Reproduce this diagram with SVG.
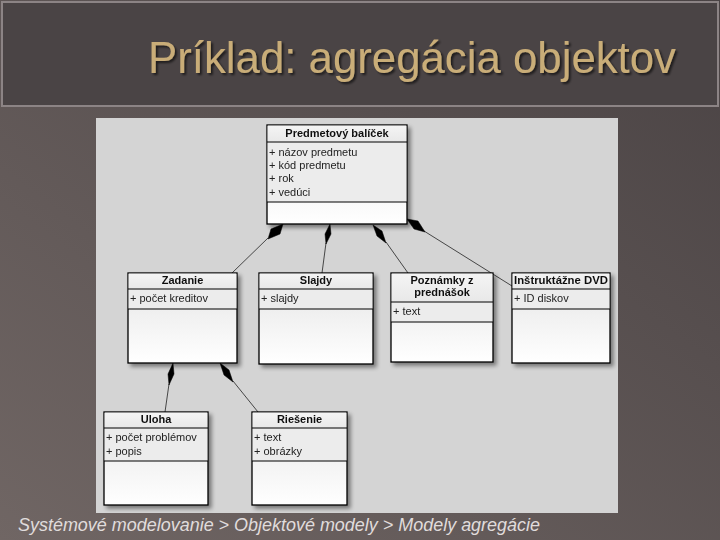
<svg xmlns="http://www.w3.org/2000/svg" width="720" height="540" viewBox="0 0 720 540">
<defs>
<linearGradient id="bg" x1="0" y1="1" x2="1" y2="0">
<stop offset="0" stop-color="#706664"/>
<stop offset="1" stop-color="#4a4344"/>
</linearGradient>
<linearGradient id="hdr" x1="0" y1="0" x2="0" y2="1">
<stop offset="0" stop-color="#f4f4f4"/>
<stop offset="1" stop-color="#e8e8e8"/>
</linearGradient>
<linearGradient id="body" x1="0" y1="0" x2="0" y2="1">
<stop offset="0" stop-color="#e4e4e4"/>
<stop offset="1" stop-color="#ffffff"/>
</linearGradient>
<filter id="sh" x="-10%" y="-10%" width="130%" height="130%">
<feGaussianBlur in="SourceAlpha" stdDeviation="2"/>
<feOffset dx="3" dy="3"/>
<feComponentTransfer><feFuncA type="linear" slope="0.45"/></feComponentTransfer>
<feMerge><feMergeNode/><feMergeNode in="SourceGraphic"/></feMerge>
</filter>
<filter id="tsh" x="-5%" y="-20%" width="110%" height="140%">
<feGaussianBlur in="SourceAlpha" stdDeviation="1"/>
<feOffset dx="2" dy="2"/>
<feComponentTransfer><feFuncA type="linear" slope="0.6"/></feComponentTransfer>
<feMerge><feMergeNode/><feMergeNode in="SourceGraphic"/></feMerge>
</filter>
</defs>
<style>
.box{stroke:#000;stroke-width:1.3}
.sep{stroke:#000;stroke-width:1}
.h{font-family:"Liberation Sans",Arial,sans-serif;font-size:11px;font-weight:bold;fill:#111;text-anchor:middle}
.a{font-family:"Liberation Sans",Arial,sans-serif;font-size:11px;fill:#222}
.ln{stroke:#222;stroke-width:0.8;fill:none}
.dm{fill:#000;stroke:#000;stroke-width:0.5}
</style>
<rect x="0" y="0" width="720" height="540" fill="url(#bg)"/>
<rect x="2" y="2" width="716" height="104" fill="#4a4445" stroke="#8c8485" stroke-width="2"/>
<text x="148" y="73" font-family="&quot;Liberation Sans&quot;,Arial,sans-serif" font-size="45" fill="#c9ad78" filter="url(#tsh)" textLength="528" lengthAdjust="spacingAndGlyphs">Príklad: agregácia objektov</text>
<rect x="96" y="118" width="522" height="395" fill="#d4d4d4"/>

<g id="connectors">
<line class="ln" x1="232" y1="273" x2="268" y2="238"/>
<polygon class="dm" points="283,224 280,234 268,239 271,229"/>
<line class="ln" x1="322" y1="273" x2="326" y2="243"/>
<polygon class="dm" points="330,224 331,234 326,244 325,234"/>
<line class="ln" x1="408" y1="273" x2="386" y2="242"/>
<polygon class="dm" points="373,225 382,231 386,243 377,236"/>
<line class="ln" x1="512" y1="286" x2="424" y2="231"/>
<polygon class="dm" points="407,219 418,221 425,232 414,229"/>
<line class="ln" x1="165" y1="412" x2="169" y2="384"/>
<polygon class="dm" points="173,363 174,374 169,385 168,374"/>
<line class="ln" x1="258" y1="412" x2="233" y2="381"/>
<polygon class="dm" points="220,363 229,370 233,382 224,375"/>
</g>

<g id="predmetovy" filter="url(#sh)">
<rect class="box" x="267" y="125" width="140" height="99" fill="url(#body)"/>
<rect x="267.6" y="125.6" width="138.8" height="16.4" fill="url(#hdr)"/>
<rect x="267.6" y="142" width="138.8" height="60" fill="#ececec"/>
<line class="sep" x1="267" y1="142" x2="407" y2="142"/>
<line class="sep" x1="267" y1="202" x2="407" y2="202"/>
<text class="h" x="337" y="137">Predmetový balíček</text>
<text class="a" x="269" y="156">+ názov predmetu</text>
<text class="a" x="269" y="169">+ kód predmetu</text>
<text class="a" x="269" y="182">+ rok</text>
<text class="a" x="269" y="196">+ vedúci</text>
</g>

<g id="zadanie" filter="url(#sh)">
<rect class="box" x="128" y="273" width="109" height="90" fill="url(#body)"/>
<rect x="128.6" y="273.6" width="107.8" height="15.4" fill="url(#hdr)"/>
<rect x="128.6" y="289" width="107.8" height="20" fill="#ececec"/>
<line class="sep" x1="128" y1="289" x2="237" y2="289"/>
<line class="sep" x1="128" y1="309" x2="237" y2="309"/>
<text class="h" x="182.5" y="284">Zadanie</text>
<text class="a" x="130" y="302">+ počet kreditov</text>
</g>

<g id="slajdy" filter="url(#sh)">
<rect class="box" x="259" y="273" width="114" height="91" fill="url(#body)"/>
<rect x="259.6" y="273.6" width="112.8" height="15.4" fill="url(#hdr)"/>
<rect x="259.6" y="289" width="112.8" height="20" fill="#ececec"/>
<line class="sep" x1="259" y1="289" x2="373" y2="289"/>
<line class="sep" x1="259" y1="309" x2="373" y2="309"/>
<text class="h" x="316" y="284">Slajdy</text>
<text class="a" x="261" y="302">+ slajdy</text>
</g>

<g id="poznamky" filter="url(#sh)">
<rect class="box" x="391" y="273" width="102" height="89" fill="url(#body)"/>
<rect x="391.6" y="273.6" width="100.8" height="28.4" fill="url(#hdr)"/>
<rect x="391.6" y="302" width="100.8" height="20" fill="#ececec"/>
<line class="sep" x1="391" y1="302" x2="493" y2="302"/>
<line class="sep" x1="391" y1="322" x2="493" y2="322"/>
<text class="h" x="442" y="284">Poznámky z</text>
<text class="h" x="442" y="296">prednášok</text>
<text class="a" x="393" y="315">+ text</text>
</g>

<g id="dvd" filter="url(#sh)">
<rect class="box" x="512" y="273" width="98" height="90" fill="url(#body)"/>
<rect x="512.6" y="273.6" width="96.8" height="15.4" fill="url(#hdr)"/>
<rect x="512.6" y="289" width="96.8" height="20" fill="#ececec"/>
<line class="sep" x1="512" y1="289" x2="610" y2="289"/>
<line class="sep" x1="512" y1="309" x2="610" y2="309"/>
<text class="h" x="561" y="284" textLength="94" lengthAdjust="spacingAndGlyphs">Inštruktážne DVD</text>
<text class="a" x="514" y="302">+ ID diskov</text>
</g>

<g id="uloha" filter="url(#sh)">
<rect class="box" x="104" y="412" width="104" height="93" fill="url(#body)"/>
<rect x="104.6" y="412.6" width="102.8" height="15.4" fill="url(#hdr)"/>
<rect x="104.6" y="428" width="102.8" height="33" fill="#ececec"/>
<line class="sep" x1="104" y1="428" x2="208" y2="428"/>
<line class="sep" x1="104" y1="461" x2="208" y2="461"/>
<text class="h" x="156" y="423">Uloha</text>
<text class="a" x="106" y="441">+ počet problémov</text>
<text class="a" x="106" y="455">+ popis</text>
</g>

<g id="riesenie" filter="url(#sh)">
<rect class="box" x="252" y="412" width="95" height="93" fill="url(#body)"/>
<rect x="252.6" y="412.6" width="93.8" height="15.4" fill="url(#hdr)"/>
<rect x="252.6" y="428" width="93.8" height="33" fill="#ececec"/>
<line class="sep" x1="252" y1="428" x2="347" y2="428"/>
<line class="sep" x1="252" y1="461" x2="347" y2="461"/>
<text class="h" x="299.5" y="423">Riešenie</text>
<text class="a" x="254" y="441">+ text</text>
<text class="a" x="254" y="455">+ obrázky</text>
</g>

<text x="18" y="531" font-family="&quot;Liberation Sans&quot;,Arial,sans-serif" font-size="17.5" font-style="italic" fill="#e0dcdc" textLength="522" lengthAdjust="spacingAndGlyphs">Systémové modelovanie &gt; Objektové modely &gt; Modely agregácie</text>
</svg>
